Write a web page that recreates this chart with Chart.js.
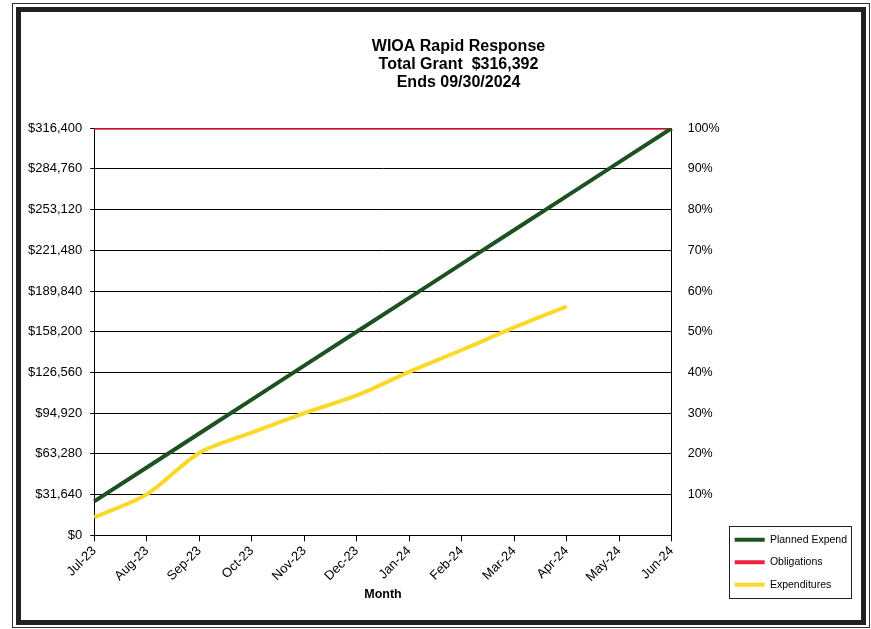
<!DOCTYPE html>
<html>
<head>
<meta charset="utf-8">
<title>WIOA Rapid Response</title>
<script src="https://cdn.jsdelivr.net/npm/chart.js@4.4.1/dist/chart.umd.min.js"></script>
<style>
	html, body { margin: 0; padding: 0; background: #fff; }
	#wrap { position: relative; width: 871px; height: 629px; overflow: hidden; }
	#outer { position: absolute; left: 12px; top: 3px; width: 856px; height: 623px; border: 1px solid #333; }
	#inner { position: absolute; left: 16px; top: 7px; width: 840px; height: 608px; border: 5px solid #222; }
	#chart { position: absolute; left: 0; top: 0; }
</style>
</head>
<body>
<div id="wrap">
	<div id="outer"></div>
	<div id="inner"></div>
	<canvas id="chart" width="871" height="629"></canvas>
</div>
<script>
// months on the x axis
var months = ['Jul-23', 'Aug-23', 'Sep-23', 'Oct-23', 'Nov-23', 'Dec-23',
	'Jan-24', 'Feb-24', 'Mar-24', 'Apr-24', 'May-24', 'Jun-24'];

// dollar series
var plannedExpend = [26366, 52732, 79098, 105464, 131830, 158196,
	184562, 210928, 237294, 263660, 290026, 316392];
var obligations = [316392, 316392, 316392, 316392, 316392, 316392,
	316392, 316392, 316392, 316392, 316392, 316392];
var expenditures = [14000, 31800, 64000, 79800, 95000, 108700,
	127000, 144000, 161600, 178000, null, null];

// axis ticks
var dollarTicks = [0, 31640, 63280, 94920, 126560, 158200, 189840, 221480, 253120, 284760, 316400];
var pctTicks = [0, 10, 20, 30, 40, 50, 60, 70, 80, 90, 100];

var FONT = 'Arial, "Liberation Sans", sans-serif';

// the title sits a bit right of the canvas middle in the scan
var titleShift = {
	id: 'titleShift',
	afterLayout: function(chart) {
		if (chart.titleBlock) {
			chart.titleBlock.left += 20;
			chart.titleBlock.right += 20;
		}
	}
};

// draws the thin box round the legend items
var legendFrame = {
	id: 'legendFrame',
	afterDraw: function(chart) {
		var hb = chart.legend && chart.legend.legendHitBoxes;
		if (!hb || !hb.length) return;
		var l = Infinity, t = Infinity, r = -Infinity, b = -Infinity;
		hb.forEach(function(h) {
			l = Math.min(l, h.left);
			t = Math.min(t, h.top);
			r = Math.max(r, h.left + h.width);
			b = Math.max(b, h.top + h.height);
		});
		var ctx = chart.ctx;
		ctx.save();
		ctx.strokeStyle = '#222';
		ctx.lineWidth = 1;
		ctx.strokeRect(Math.round(l - 6) + 0.5, Math.round(t - 9) + 0.5, Math.round(r - l + 10), Math.round(b - t + 16));
		ctx.restore();
	}
};

new Chart(document.getElementById('chart'), {
	type: 'line',
	data: {
		labels: months,
		datasets: [
			{
				label: 'Planned Expend',
				data: plannedExpend,
				borderColor: '#1d5220',
				backgroundColor: '#1d5220',
				borderWidth: 4,
				pointRadius: 0,
				tension: 0
			},
			{
				label: 'Obligations',
				data: obligations,
				borderColor: '#f0213f',
				backgroundColor: '#f0213f',
				borderWidth: 3,
				pointRadius: 0,
				tension: 0
			},
			{
				label: 'Expenditures',
				data: expenditures,
				borderColor: '#fcd82a',
				backgroundColor: '#fcd82a',
				borderWidth: 4,
				pointRadius: 0,
				tension: 0.3,
				spanGaps: false
			}
		]
	},
	options: {
		responsive: false,
		animation: false,
		devicePixelRatio: 1,
		layout: { padding: { left: 20, right: 14, top: 0, bottom: 27 } },
		plugins: {
			title: {
				display: true,
				text: ['WIOA Rapid Response', 'Total Grant  $316,392', 'Ends 09/30/2024'],
				color: '#000',
				font: { family: FONT, size: 16, weight: 'bold', lineHeight: 1.15 },
				padding: { top: 37, bottom: 36 }
			},
			legend: {
				position: 'right',
				align: 'end',
				labels: {
					color: '#000',
					font: { family: FONT, size: 10.5 },
					boxWidth: 30,
					boxHeight: 4,
					padding: 12,
					generateLabels: function(chart) {
						return Chart.defaults.plugins.legend.labels.generateLabels(chart).map(function(item) {
							item.fillStyle = item.strokeStyle;
							item.lineWidth = 0;
							return item;
						});
					}
				}
			},
			tooltip: { enabled: false }
		},
		scales: {
			x: {
				offset: false,
				grid: { drawOnChartArea: false, drawTicks: true, tickLength: 6, color: '#000' },
				border: { display: true, color: '#000', width: 1 },
				ticks: { color: '#000', font: { family: FONT, size: 13 }, maxRotation: 45, minRotation: 45, padding: 2 },
				title: { display: true, text: 'Month', color: '#000', font: { family: FONT, size: 12.5, weight: 'bold' }, padding: { top: 0, bottom: 0 } }
			},
			y: {
				position: 'left',
				min: 0,
				max: 316400,
				afterBuildTicks: function(scale) {
					scale.ticks = dollarTicks.map(function(v) { return { value: v }; });
				},
				grid: { color: '#000', lineWidth: 1, tickLength: 4 },
				border: { display: true, color: '#000', width: 1 },
				ticks: {
					color: '#000',
					font: { family: FONT, size: 13 },
					padding: 8,
					callback: function(v) { return '$' + Number(v).toLocaleString('en-US'); }
				}
			},
			y1: {
				position: 'right',
				min: 0,
				max: 100,
				afterFit: function(scale) { scale.width = 51; },
				afterBuildTicks: function(scale) {
					scale.ticks = pctTicks.map(function(v) { return { value: v }; });
				},
				grid: { drawOnChartArea: false, drawTicks: false },
				border: { display: true, color: '#000', width: 1 },
				ticks: {
					color: '#000',
					font: { family: FONT, size: 12.5 },
					padding: 16,
					callback: function(v) { return v === 0 ? '' : v + '%'; }
				}
			}
		}
	},
	plugins: [titleShift, legendFrame]
});
</script>
</body>
</html>
